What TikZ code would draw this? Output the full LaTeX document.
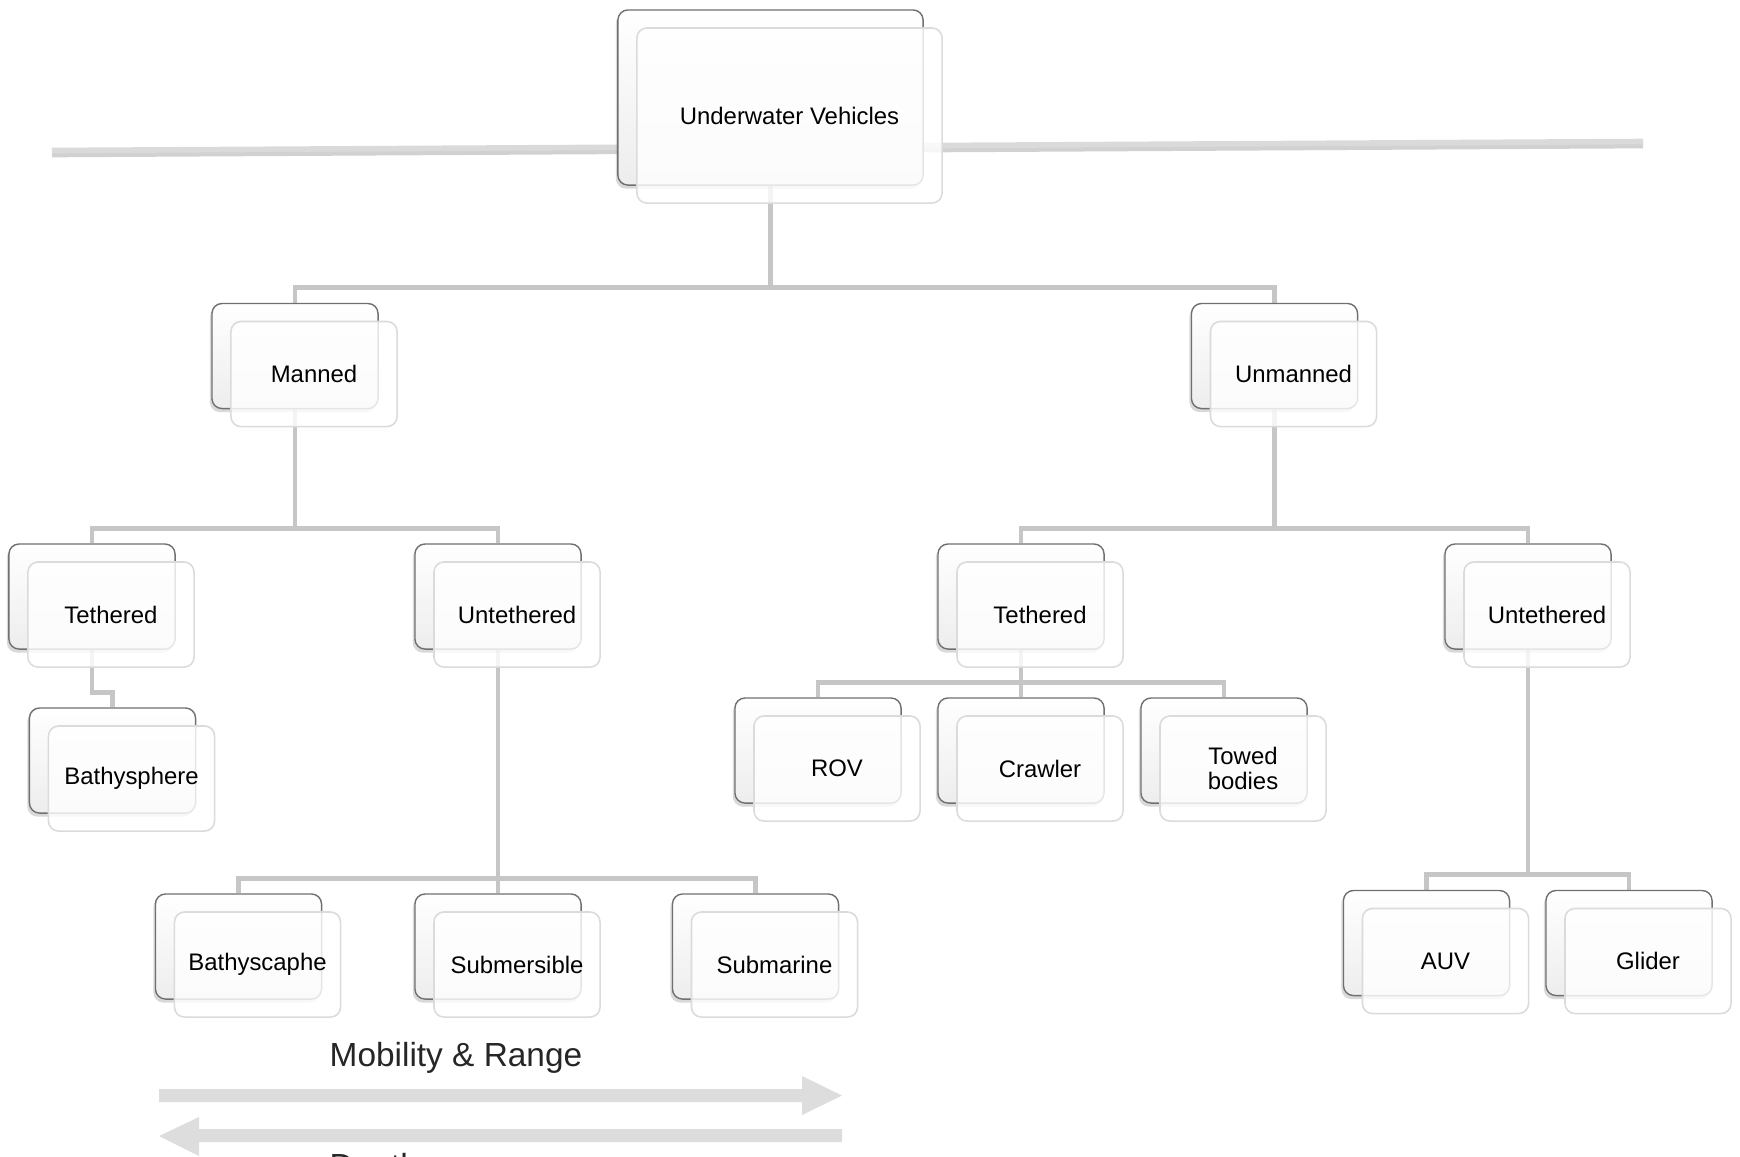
\documentclass[tikz,border=0pt]{standalone}
\usepackage{fontspec}
\setmainfont{Liberation Sans}
\usepackage{tikz}
\usetikzlibrary{positioning, calc, shadows}
\usepackage{xcolor}
\definecolor{linkgrey}{RGB}{198,198,198}
\definecolor{bargrey}{RGB}{218,218,218}
\definecolor{edgegrey}{RGB}{112,112,112}
\definecolor{arrowgrey}{RGB}{221,221,221}
\pgfdeclarelayer{bg}
\pgfsetlayers{bg,main}
\tikzset{
  backbox/.style={draw=edgegrey, line width=0.4pt, rounded corners=0.1cm, top color=white, bottom color=black!7,
    minimum width=1.66cm, minimum height=1.05cm, drop shadow={shadow xshift=-0.6pt, shadow yshift=-1pt, opacity=0.3}},
  frontbox/.style={draw=black!14, line width=0.45pt, rounded corners=0.1cm, fill=white, fill opacity=0.82, text opacity=1,
    minimum width=1.66cm, minimum height=1.05cm, align=center, font=\fontsize{6.8}{7.3}\selectfont},
  rootsize/.style={minimum width=3.05cm, minimum height=1.75cm},
  link/.style={linkgrey, line width=1.4pt},
  labeltext/.style={font=\fontsize{9.5}{11}\selectfont, text=black!85, inner sep=0pt},
}
% one vehicle box = shaded back card + light front card
\newcommand{\vehicle}[5][]{%
  \node[backbox,#1] (#2-bk) at (#3,#4) {};
  \node[frontbox,#1] (#2) at ([shift={(19,18)}]#2-bk.center) {#5};}

\begin{document}
\begin{tikzpicture}[x=0.01cm, y=-0.01cm]
  \useasboundingbox (0,0) rectangle (1740,1156);

  \vehicle[rootsize]{root}{770.5}{97.5}{Underwater Vehicles}
  \foreach \n/\x/\y/\t in {manned/295/356/Manned, unmanned/1274.5/356/Unmanned,
      tetl/92/596.5/Tethered, untl/498/596.5/Untethered, bsph/112.5/760.5/Bathysphere,
      bscaphe/238.5/946.5/Bathyscaphe, subm/498/946.5/Submersible, subma/755.5/946.5/Submarine,
      tetr/1021/596.5/Tethered, untr/1528/596.5/Untethered,
      rov/818/750.5/ROV, crawl/1021/750.5/Crawler, towed/1224/750.5/{Towed\\bodies},
      auv/1426.5/943/AUV, glider/1629/943/Glider}
    \vehicle{\n}{\x}{\y}{\t};

  \begin{pgfonlayer}{bg}
    \draw[black!30, opacity=0.6, line width=1.6pt] (52,154.5) -- (1643,145.5);
    \draw[bargrey, line width=1.6pt] (52,150.5) -- (1643,141.5);
    \foreach \p/\c in {root/manned, root/unmanned, manned/tetl, manned/untl, tetl/bsph,
        untl/bscaphe, untl/subm, untl/subma, unmanned/tetr, unmanned/untr,
        tetr/rov, tetr/crawl, tetr/towed, untr/auv, untr/glider}
      \draw[link] (\p-bk.south) |- ([yshift=0.15cm]\c-bk.north) -- (\c-bk.north);
  \end{pgfonlayer}

  % mobility / depth arrows
  \fill[arrowgrey] (159,1089) -- (802,1089) -- (802,1076) -- (842,1095.5) -- (802,1115) -- (802,1102) -- (159,1102) -- cycle;
  \fill[arrowgrey] (842,1129) -- (199,1129) -- (199,1117) -- (159,1136) -- (199,1156) -- (199,1142) -- (842,1142) -- cycle;
  \node[labeltext, anchor=base west] (mob) at (329,1066) {Mobility \& Range};
  \node[labeltext, anchor=base west] (depth) at (329,1177) {Depth};
\end{tikzpicture}
\end{document}
